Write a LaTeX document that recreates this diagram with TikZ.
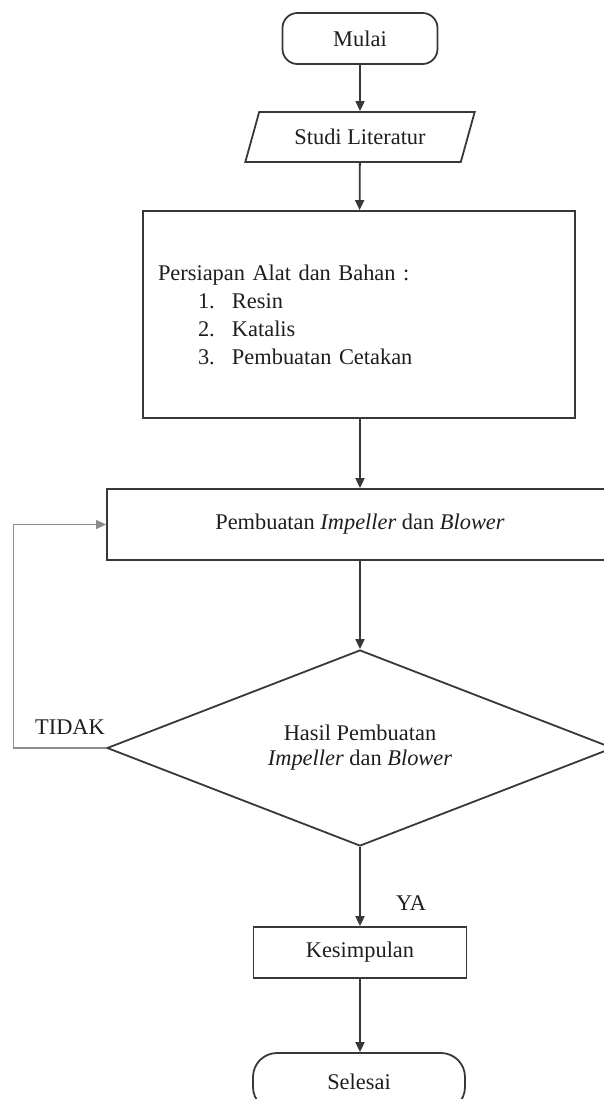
\documentclass[tikz,border=0pt]{standalone}
\usepackage{fontspec}
\setmainfont{Liberation Serif}
\usetikzlibrary{shapes.geometric,arrows.meta}
\definecolor{Ink}{HTML}{1E1E1E}
\definecolor{Edge}{HTML}{383838}
\definecolor{Loop}{HTML}{8C8C8C}

\begin{document}
\begin{tikzpicture}[x=0.5pt,y=-0.5pt,
    every node/.style={font=\fontsize{11.2}{14}\selectfont,text=Ink},
    endbox/.style={draw=Edge,line width=0.9pt,rounded corners=7.5pt,minimum width=77.5pt,minimum height=25.5pt},
    iobox/.style={draw=Edge,line width=0.9pt,trapezium,trapezium stretches=true,trapezium left angle=68,trapezium right angle=112,minimum width=115pt,minimum height=25pt,inner sep=2pt},
    procbox/.style={draw=Edge,line width=0.9pt,rectangle},
    decbox/.style={draw=Edge,line width=0.9pt,diamond,aspect=2.58,inner sep=0pt,minimum width=253pt,minimum height=98pt,align=center},
    flowline/.style={draw=Edge,line width=0.9pt,-{Triangle[length=5pt,width=4.5pt]}},
    backline/.style={draw=Loop,line width=0.6pt,-{Triangle[length=5pt,width=4.5pt]}}
  ]
    \useasboundingbox (0,0) rectangle (604,1099);
    \node[endbox] (mulai) at (360,38.5) {Mulai};
    \node[iobox] (studi) at (360,137) {Studi Literatur};
    \node[procbox,minimum width=216pt,minimum height=103.5pt,text width=201pt,inner xsep=7.5pt,align=left] (persiapan) at (359,314.5)
      {Persiapan Alat dan Bahan :\\
       \hspace*{20pt}\makebox[17pt][l]{1.}Resin\\
       \hspace*{20pt}\makebox[17pt][l]{2.}Katalis\\
       \hspace*{20pt}\makebox[17pt][l]{3.}Pembuatan Cetakan};
    \node[procbox,minimum width=253pt,minimum height=35.5pt] (pembuatan) at (360,524.5)
      {Pembuatan \textit{Impeller} dan \textit{Blower}};
    \node[decbox,font=\fontsize{11.2}{12.5}\selectfont] (hasil) at (360,748)
      {Hasil Pembuatan\\\textit{Impeller} dan \textit{Blower}};
    \node[procbox,minimum width=106.5pt,minimum height=25.5pt] (kesimpulan) at (360,952.5) {Kesimpulan};
    \node[endbox,rounded corners=12pt,minimum width=106pt,minimum height=29pt] (selesai) at (359,1082) {Selesai};
    \node (tidak) at (70,727) {TIDAK};
    \node (ya) at (411,903) {YA};

    \draw[flowline] (mulai) -- (studi);
    \draw[flowline] (studi) -- (persiapan);
    \draw[flowline] (persiapan.south -| pembuatan.north) -- (pembuatan);
    \draw[flowline] (pembuatan) -- (hasil);
    \draw[flowline] (hasil) -- (kesimpulan);
    \draw[flowline] (kesimpulan) -- (selesai.north -| kesimpulan.south);
    \draw[backline] (hasil.west) -- ++(-93,0) |- (pembuatan.west);
  \end{tikzpicture}
\end{document}
